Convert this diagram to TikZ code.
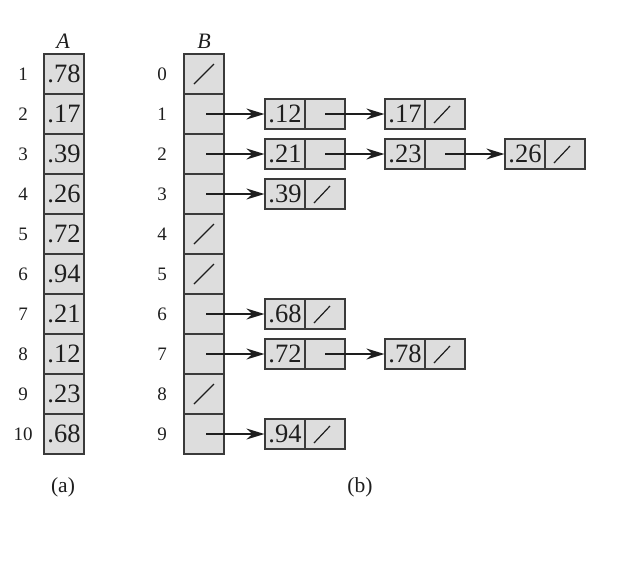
\documentclass[tikz,border=0pt]{standalone}
\usepackage{fontspec}
\setmainfont{Liberation Serif}
\usetikzlibrary{arrows.meta}
\definecolor{cellfill}{HTML}{DDDDDD}
\definecolor{cellline}{HTML}{3A3A3A}
\definecolor{ink}{HTML}{1E1E1E}
\tikzset{
  cell/.style={draw=cellline, fill=cellfill, line width=1.2pt, inner sep=0pt,
    minimum width=40pt, minimum height=40pt, text=ink,
    font=\fontsize{26.5}{28}\selectfont},
  lcell/.style={cell, minimum height=30pt},
  idx/.style={text=ink, font=\fontsize{19}{21}\selectfont},
  title/.style={text=ink, font=\fontsize{22}{24}\selectfont\itshape},
  caption/.style={text=ink, font=\fontsize{21.5}{23}\selectfont},
  ptr/.style={draw=ink, line width=1.2pt, -{Stealth[length=18pt,width=11pt,inset=6pt]}},
  nil/.style={draw=ink, line width=1.2pt}
}
\begin{document}
\begin{tikzpicture}[x=1pt,y=-1pt]
\useasboundingbox (0,0) rectangle (627,566);
% array A
\node[title] (At) at (63,41) {A};
\foreach \v [count=\i] in {.78,.17,.39,.26,.72,.94,.21,.12,.23,.68} {
  \node[cell] (a\i) at (64,{34+40*\i}) {\v};
  \node[idx] (ai\i) at (23,{34+40*\i}) {\i};
}
% array B
\node[title] (Bt) at (204,41) {B};
\foreach \i in {0,...,9} {
  \node[cell] (b\i) at (204,{74+40*\i}) {};
  \node[idx] (bi\i) at (162,{74+40*\i}) {\i};
}
\foreach \i in {0,4,5,8} {
  \draw[nil] ([shift={(-10,10)}]b\i.center) -- ([shift={(10,-10)}]b\i.center);
}
% list nodes: value cell and pointer cell
% row 1
\node[lcell] (r1a) at (285,114) {.12}; \node[lcell] (r1ap) at (325,114) {};
\node[lcell] (r1b) at (405,114) {.17}; \node[lcell] (r1bp) at (445,114) {};
% row 2
\node[lcell] (r2a) at (285,154) {.21}; \node[lcell] (r2ap) at (325,154) {};
\node[lcell] (r2b) at (405,154) {.23}; \node[lcell] (r2bp) at (445,154) {};
\node[lcell] (r2c) at (525,154) {.26}; \node[lcell] (r2cp) at (565,154) {};
% row 3
\node[lcell] (r3a) at (285,194) {.39}; \node[lcell] (r3ap) at (325,194) {};
% row 6
\node[lcell] (r6a) at (285,314) {.68}; \node[lcell] (r6ap) at (325,314) {};
% row 7
\node[lcell] (r7a) at (285,354) {.72}; \node[lcell] (r7ap) at (325,354) {};
\node[lcell] (r7b) at (405,354) {.78}; \node[lcell] (r7bp) at (445,354) {};
% row 9
\node[lcell] (r9a) at (285,434) {.94}; \node[lcell] (r9ap) at (325,434) {};
% nil slashes in list nodes
\foreach \n in {r1bp,r2cp,r3ap,r6ap,r7bp,r9ap} {
  \draw[nil] ([shift={(-11,9)}]\n.center) -- ([shift={(5,-8)}]\n.center);
}
% pointers
\foreach \i in {1,2,3,6,7,9} {
  \draw[ptr] ([xshift=2pt]b\i.center) -- (r\i a.west);
}
\draw[ptr] (r1ap.center) -- (r1b.west);
\draw[ptr] (r2ap.center) -- (r2b.west);
\draw[ptr] (r2bp.center) -- (r2c.west);
\draw[ptr] (r7ap.center) -- (r7b.west);
% captions
\node[caption] (capa) at (63,487) {(a)};
\node[caption] (capb) at (360,487) {(b)};
\end{tikzpicture}
\end{document}
